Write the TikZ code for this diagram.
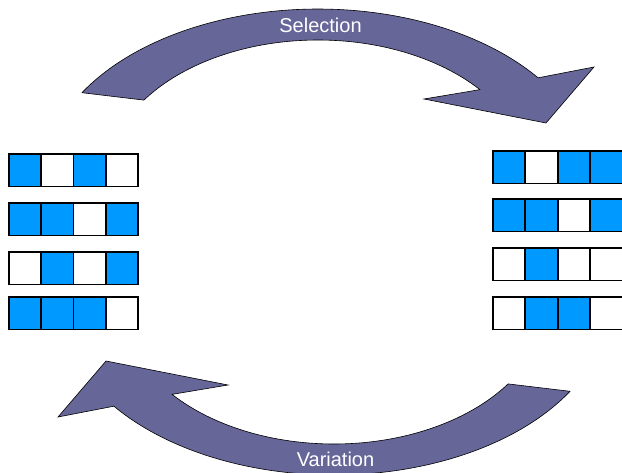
\documentclass[tikz,border=0pt]{standalone}
\usepackage{fontspec}
\setmainfont{Liberation Sans}
\definecolor{arrowfill}{HTML}{666699}
\definecolor{bitblue}{HTML}{0099FF}
\colorlet{bit0}{white}
\colorlet{bit1}{bitblue}
\begin{document}
\begin{tikzpicture}[x=1pt,y=-1pt,
  cyclearrow/.style={fill=arrowfill, draw=black, line width=0.6pt, line join=miter},
  bit/.style={draw=black, line width=1.6pt, minimum width=32.25pt, minimum height=32.5pt,
              inner sep=0pt, outer sep=0pt, anchor=north west},
  cyclelabel/.style={text=white, font=\fontsize{20}{24}\selectfont, anchor=base, inner sep=0pt}]
\useasboundingbox (0,0) rectangle (622,472);

% selection arrow (top), bounded by two concentric elliptic arcs
\draw[cyclearrow]
  plot[domain=149.3:36.7, samples=90, variable=\t] ({318+274.5*cos(\t)},{180-171*sin(\t)})
  -- (594,67) -- (546,123) -- (424,99)
  -- plot[domain=40.2:145.2, samples=90, variable=\t] ({318+212*cos(\t)},{180-140*sin(\t)})
  -- cycle;

% variation arrow (bottom), the same shape turned half a circle
\draw[cyclearrow]
  plot[domain=149.3:36.7, samples=90, variable=\t] ({334-274.5*cos(\t)},{304+171*sin(\t)})
  -- (58,417) -- (106,361) -- (228,385)
  -- plot[domain=40.2:145.2, samples=90, variable=\t] ({334-212*cos(\t)},{304+140*sin(\t)})
  -- cycle;

\node[cyclelabel] (sel) at (320.5,32) {Selection};
\node[cyclelabel] (var) at (335.5,466) {Variation};

% population before selection
\foreach \r/\y/\a/\b/\c/\d in {1/154/1/0/1/0, 2/203/1/1/0/1, 3/252/0/1/0/1, 4/297/1/1/1/0} {
  \foreach \v [count=\i from 0] in {\a,\b,\c,\d} {
    \node[bit, fill=bit\v] (L\r-\i) at ({9+32.25*\i},\y) {};
  }
}

% population after selection
\foreach \r/\y/\a/\b/\c/\d in {1/151/1/0/1/1, 2/199/1/1/0/1, 3/248/0/1/0/0, 4/297/0/1/1/0} {
  \foreach \v [count=\i from 0] in {\a,\b,\c,\d} {
    \node[bit, fill=bit\v] (R\r-\i) at ({493+32.5*\i},\y) {};
  }
}
\end{tikzpicture}
\end{document}
